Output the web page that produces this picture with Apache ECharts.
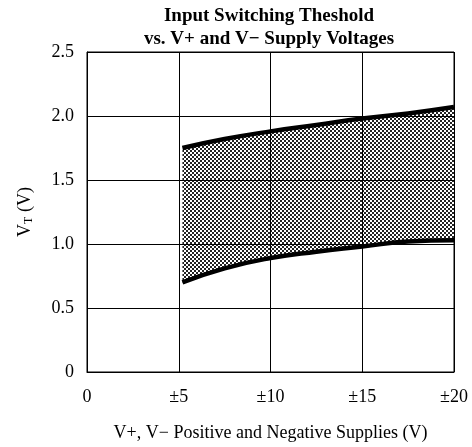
<!DOCTYPE html>
<html><head><meta charset="utf-8">
<script src="https://cdn.jsdelivr.net/npm/echarts@6/dist/echarts.min.js"></script>
<style>html,body{margin:0;padding:0;background:#fff}#c{width:472px;height:447px}</style>
</head><body><div id="c"></div>
<script>
const supplies = [5.2, 7.5, 10, 12.5, 15, 17.5, 20];
const upperVT = [1.75, 1.82, 1.88, 1.93, 1.98, 2.02, 2.07];
const lowerVT = [0.70, 0.81, 0.89, 0.94, 0.98, 1.02, 1.03];
const xTickLabels = ['0', '\u00b15', '\u00b110', '\u00b115', '\u00b120'];
const yTickLabels = ['0', '0.5', '1.0', '1.5', '2.0', '2.5'];

const font = '"Liberation Serif", "Times New Roman", serif';
const lowerData = supplies.map((x, i) => [x, lowerVT[i]]);
const upperData = supplies.map((x, i) => [x, upperVT[i]]);

// checkerboard stipple pattern
const pat = document.createElement('canvas');
pat.width = 4; pat.height = 4;
const pctx = pat.getContext('2d');
pctx.fillStyle = '#fff'; pctx.fillRect(0, 0, 4, 4);
pctx.fillStyle = '#222';
pctx.fillRect(0, 0, 2, 2); pctx.fillRect(2, 2, 2, 2);

const chart = echarts.init(document.getElementById('c'));
chart.setOption({
  animation: false,
  title: {
    text: 'Input Switching Theshold\nvs. V+ and V\u2212 Supply Voltages',
    left: 264, top: 0, textAlign: 'center',
    textStyle: { fontFamily: font, fontWeight: 'bold', fontSize: 19, color: '#000', lineHeight: 23 }
  },
  grid: { left: 87, right: 18, top: 52, bottom: 65, show: true, borderColor: '#000', borderWidth: 1 },
  xAxis: {
    type: 'value', min: 0, max: 20, interval: 5, z: 4,
    axisLine: { lineStyle: { color: '#000', width: 1 } },
    axisTick: { show: false },
    splitLine: { show: true, lineStyle: { color: '#000', width: 1 } },
    axisLabel: { margin: 16, fontFamily: font, fontSize: 18, color: '#000',
      formatter: (v, i) => xTickLabels[i] },
    name: 'V+, V\u2212 Positive and Negative Supplies (V)',
    nameLocation: 'middle', nameGap: 52,
    nameTextStyle: { fontFamily: font, fontSize: 18, color: '#000' }
  },
  yAxis: {
    type: 'value', min: 0, max: 2.5, interval: 0.5, z: 4,
    axisLine: { lineStyle: { color: '#000', width: 1 } },
    axisTick: { show: false },
    splitLine: { show: true, lineStyle: { color: '#000', width: 1 } },
    axisLabel: { margin: 13, fontFamily: font, fontSize: 18, color: '#000',
      formatter: (v, i) => yTickLabels[i] },
    name: '{a|V}{b|T}{a| (V)}',
    nameLocation: 'middle', nameGap: 52, nameRotate: 90,
    nameTextStyle: { rich: {
      a: { fontFamily: font, fontSize: 18, color: '#000' },
      b: { fontFamily: font, fontSize: 12, color: '#000', verticalAlign: 'bottom', padding: [7, 0, 0, 0] }
    } }
  },
  series: [
    { type: 'custom', data: [0], z: 2,
      renderItem: function (params, api) {
        const pts = [];
        for (let i = 0; i < supplies.length; i++) pts.push(api.coord([supplies[i], upperVT[i]]));
        for (let i = supplies.length - 1; i >= 0; i--) pts.push(api.coord([supplies[i], lowerVT[i]]));
        return { type: 'polygon', shape: { points: pts },
          style: { fill: { image: pat, repeat: 'repeat' }, stroke: null } };
      } },
    { type: 'line', data: lowerData, smooth: true, symbol: 'none',
      lineStyle: { color: '#000', width: 4.5 }, z: 5 },
    { type: 'line', data: upperData, smooth: true, symbol: 'none',
      lineStyle: { color: '#000', width: 4.5 }, z: 5 }
  ]
});
</script>
</body></html>
